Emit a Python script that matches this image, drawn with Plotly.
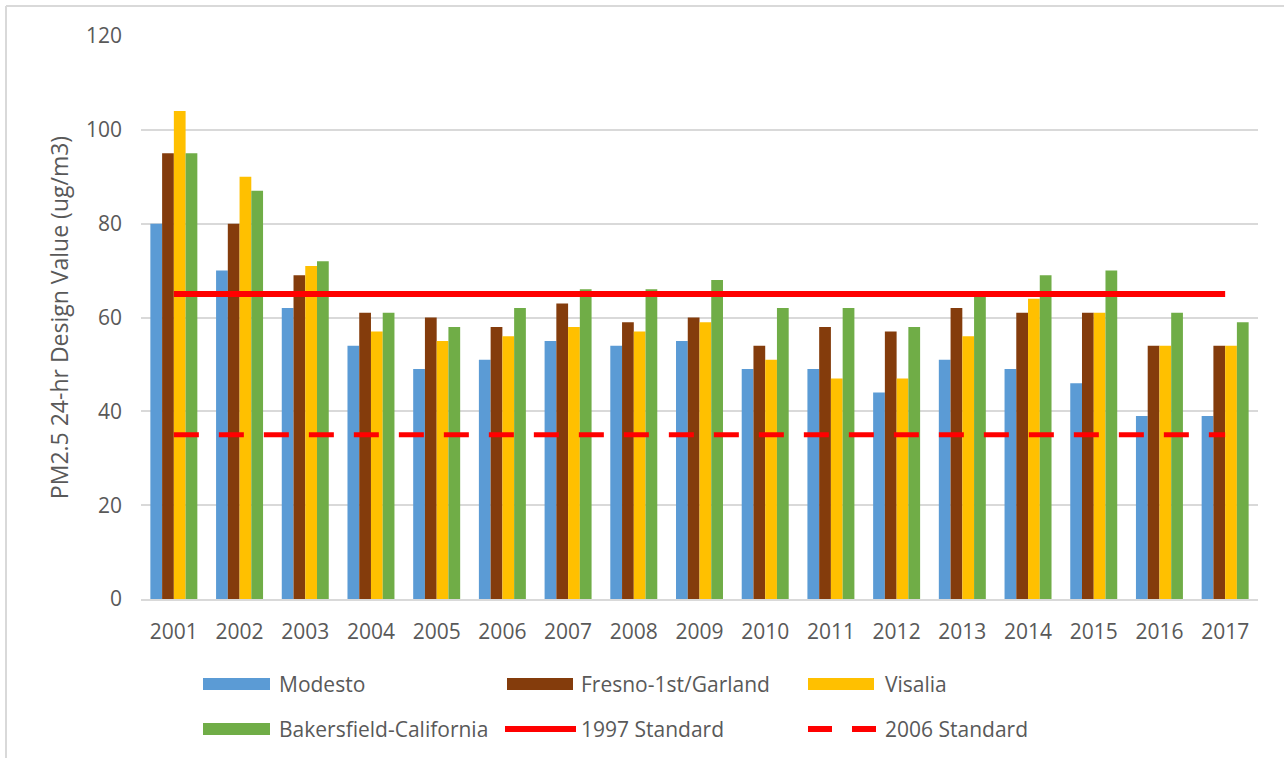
import plotly.graph_objects as go

years = ["2001", "2002", "2003", "2004", "2005", "2006", "2007", "2008", "2009",
         "2010", "2011", "2012", "2013", "2014", "2015", "2016", "2017"]

modesto = [80, 70, 62, 54, 49, 51, 55, 54, 55, 49, 49, 44, 51, 49, 46, 39, 39]
fresno = [95, 80, 69, 61, 60, 58, 63, 59, 60, 54, 58, 57, 62, 61, 61, 54, 54]
visalia = [104, 90, 71, 57, 55, 56, 58, 57, 59, 51, 47, 47, 56, 64, 61, 54, 54]
bakersfield = [95, 87, 72, 61, 58, 62, 66, 66, 68, 62, 62, 58, 65, 69, 70, 61, 59]
std_1997 = [65, 65, 65, 65, 65, 65, 65, 65, 65, 65, 65, 65, 65, 65, 65, 65, 65]
std_2006 = [35, 35, 35, 35, 35, 35, 35, 35, 35, 35, 35, 35, 35, 35, 35, 35, 35]

bar_names = ["Modesto", "Fresno-1st/Garland", "Visalia", "Bakersfield-California"]
bar_values = [modesto, fresno, visalia, bakersfield]
bar_colors = ["#5B9BD5", "#843C0C", "#FFC000", "#70AD47"]
red = "#FF0000"
text_color = "#595959"
grid_color = "#D9D9D9"
FONT = "Open Sans"
FS = 21

W, H = 1284, 758
ML, MR, MT, MB = 141, 26, 36, 159
PW, PH = W - ML - MR, H - MT - MB


def px(x):
    return (x - ML) / PW


def py(y):
    return (H - MB - y) / PH


fig = go.Figure()
for name, vals, col in zip(bar_names, bar_values, bar_colors):
    fig.add_trace(go.Bar(x=years, y=vals, name=name, marker=dict(color=col, line=dict(width=0)),
                         showlegend=False))

fig.add_trace(go.Scatter(x=years, y=std_1997, name="1997 Standard", mode="lines",
                         line=dict(color=red, width=6), showlegend=False))
fig.add_trace(go.Scatter(x=years, y=std_2006, name="2006 Standard", mode="lines",
                         line=dict(color=red, width=5, dash="25px,20px"), showlegend=False))

# Custom legend (shapes + text), laid out like the reference
shapes = []
annotations = []
row1, row2 = 684, 729
items = [
    ("rect", bar_colors[0], bar_names[0], 203, 270, 277, row1),
    ("rect", bar_colors[1], bar_names[1], 507, 573, 579, row1),
    ("rect", bar_colors[2], bar_names[2], 808, 874, 883, row1),
    ("rect", bar_colors[3], bar_names[3], 203, 270, 277, row2),
    ("line", red, "1997 Standard", 505, 576, 579, row2),
    ("dash", red, "2006 Standard", 808, 876, 883, row2),
]
for kind, col, label, x0, x1, tx, yc in items:
    if kind == "rect":
        shapes.append(dict(type="rect", xref="paper", yref="paper",
                           x0=px(x0), x1=px(x1), y0=py(yc + 6), y1=py(yc - 6),
                           fillcolor=col, line=dict(width=0)))
    elif kind == "line":
        shapes.append(dict(type="line", xref="paper", yref="paper",
                           x0=px(x0), x1=px(x1), y0=py(yc), y1=py(yc),
                           line=dict(color=col, width=6)))
    else:
        shapes.append(dict(type="line", xref="paper", yref="paper",
                           x0=px(x0), x1=px(x1), y0=py(yc), y1=py(yc),
                           line=dict(color=col, width=6, dash="24px,20px")))
    annotations.append(dict(xref="paper", yref="paper", x=px(tx), y=py(yc),
                            xanchor="left", yanchor="middle", showarrow=False,
                            text=label, font=dict(family=FONT, size=FS, color=text_color)))

# chart-area border (top and left visible in the reference)
shapes.append(dict(type="line", xref="paper", yref="paper", x0=px(6), x1=px(W + 5),
                   y0=py(6), y1=py(6), line=dict(color=grid_color, width=2)))
shapes.append(dict(type="line", xref="paper", yref="paper", x0=px(6), x1=px(6),
                   y0=py(6), y1=py(H + 5), line=dict(color=grid_color, width=2)))

fig.update_layout(
    width=W, height=H,
    margin=dict(l=ML, r=MR, t=MT, b=MB),
    paper_bgcolor="white", plot_bgcolor="white",
    barmode="group", bargap=0.285, bargroupgap=0,
    font=dict(family=FONT, size=FS, color=text_color),
    shapes=shapes, annotations=annotations,
    xaxis=dict(type="category", showgrid=False, showline=True, linecolor=grid_color, linewidth=2,
               ticks="", tickfont=dict(family=FONT, size=FS, color=text_color),
               ticklabelstandoff=13, zeroline=False),
    yaxis=dict(range=[0, 120], dtick=20, showgrid=True, gridcolor=grid_color, gridwidth=2,
               zeroline=False, showline=False, ticks="",
               tickfont=dict(family=FONT, size=FS, color=text_color), ticklabelstandoff=18,
               title=dict(text="PM2.5 24-hr Design Value (ug/m3)",
                          font=dict(family=FONT, size=23, color=text_color), standoff=10)),
)

fig.write_html("out.html", config={"displayModeBar": False},
               post_script="document.body.style.margin='0';document.body.style.overflow='hidden';")
